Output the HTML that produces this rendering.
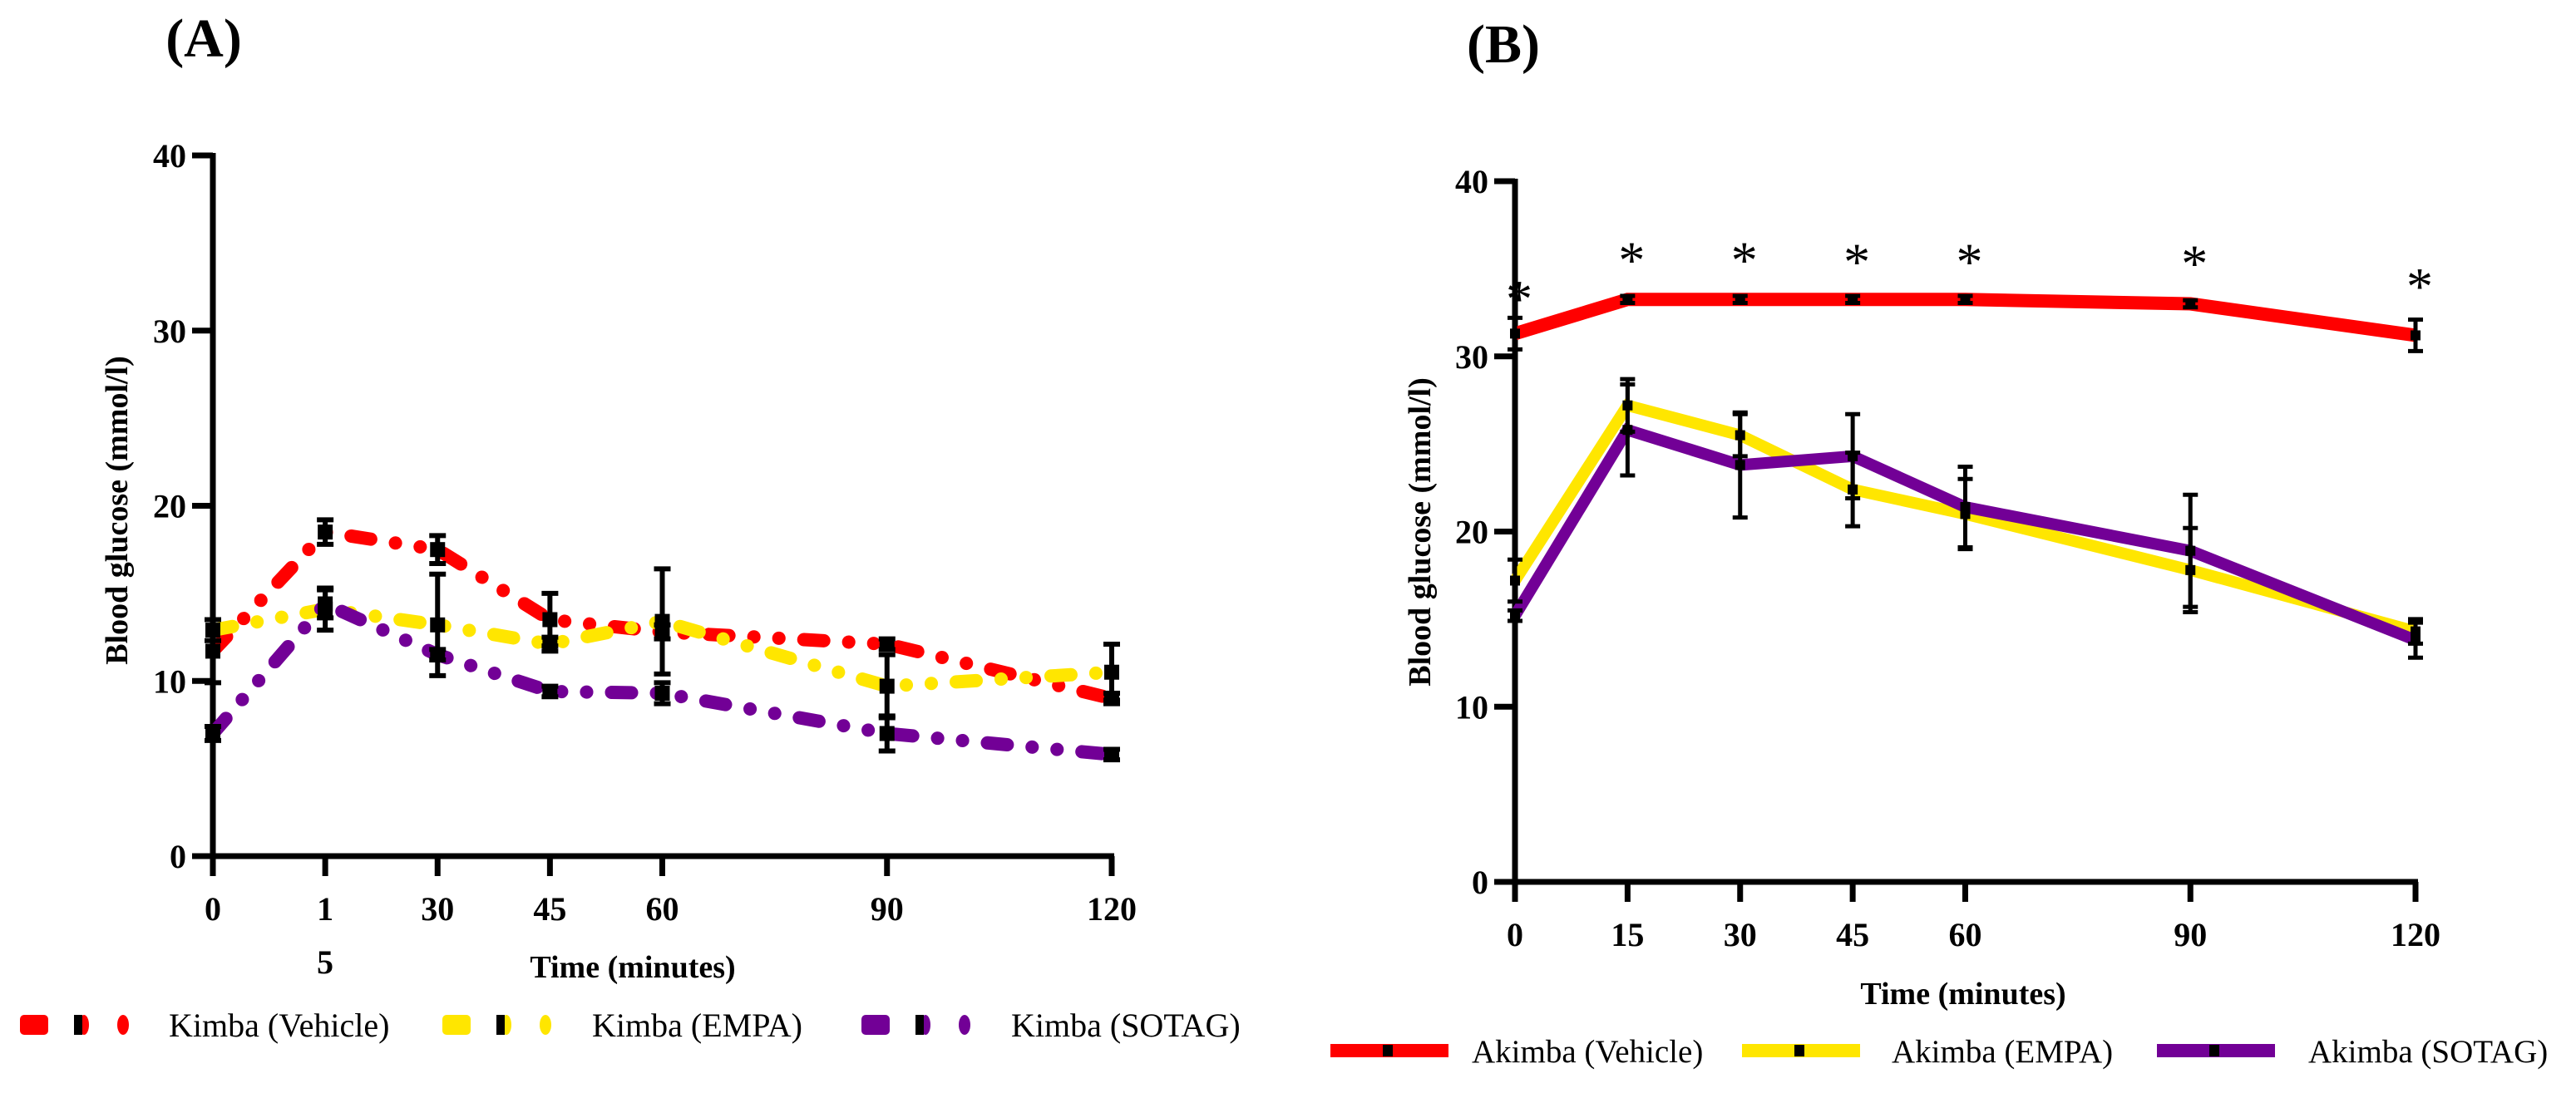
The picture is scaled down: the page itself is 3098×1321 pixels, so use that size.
<!DOCTYPE html>
<html><head><meta charset="utf-8"><style>
html,body{margin:0;padding:0;background:#fff}
svg{display:block}
text{font-family:"Liberation Serif",serif}
</style></head><body>
<svg id="c" width="3098" height="1321" viewBox="0 0 3098 1321" xmlns="http://www.w3.org/2000/svg">
<text x="245" y="68" font-size="66" font-weight="bold" text-anchor="middle">(A)</text>
<text x="1808" y="75" font-size="66" font-weight="bold" text-anchor="middle">(B)</text>
<g id="ga"></g>
<g id="gb"></g>
<g id="lg"></g>
</svg>
<script>
const times = [0, 15, 30, 45, 60, 90, 120];
const yTicks = [0, 10, 20, 30, 40];
const xTickLabelsA = ["0", "1", "30", "45", "60", "90", "120"];
const xTickLabelsB = ["0", "15", "30", "45", "60", "90", "120"];
const seriesNamesA = ["Kimba (Vehicle)", "Kimba (EMPA)", "Kimba (SOTAG)"];
const seriesNamesB = ["Akimba (Vehicle)", "Akimba (EMPA)", "Akimba (SOTAG)"];
const aVehicle = [11.7, 18.5, 17.5, 13.5, 12.8, 12.1, 9.0];
const aVehicleErr = [1.8, 0.7, 0.8, 1.5, 0.4, 0.3, 0.3];
const aEmpa = [12.9, 14.1, 13.2, 12.1, 13.4, 9.7, 10.5];
const aEmpaErr = [0.6, 1.2, 2.9, 0.4, 3.0, 1.8, 1.6];
const aSotag = [7.0, 14.4, 11.5, 9.4, 9.3, 7.0, 5.8];
const aSotagErr = [0.4, 0.8, 0.3, 0.3, 0.6, 1.0, 0.3];
const bVehicle = [31.3, 33.25, 33.25, 33.25, 33.25, 33.0, 31.2];
const bVehicleErr = [0.9, 0.2, 0.2, 0.2, 0.2, 0.2, 0.9];
const bEmpa = [17.2, 27.2, 25.5, 22.4, 21.0, 17.8, 14.3];
const bEmpaErr = [1.2, 1.5, 1.2, 2.1, 2.0, 2.4, 0.7];
const bSotag = [15.2, 25.8, 23.8, 24.3, 21.4, 18.9, 13.8];
const bSotagErr = [0.3, 2.6, 3.0, 2.4, 2.3, 3.2, 1.0];
const asterisks = [33.7, 35.9, 35.9, 35.8, 35.8, 35.7, 34.4];

const NS = "http://www.w3.org/2000/svg";
function mk(tag, attrs, parent, txt){const e=document.createElementNS(NS,tag);for(const k in attrs)e.setAttribute(k,attrs[k]);if(txt!==undefined)e.textContent=txt;parent.appendChild(e);return e;}
const colors = ["#ff0000", "#ffe600", "#720096"];

function panel(g, P, data, errs, labels, dashed){
  const X = t => P.x0 + t/120*(P.x1-P.x0);
  const Y = v => P.y0 - v/40*(P.y0-P.y40);
  let e = mk("line",{x1:P.x0,y1:P.y40-3,x2:P.x0,y2:P.y0+20,stroke:"#000","stroke-width":7},g);
  
  
  e = mk("line",{x1:P.x0-25,y1:P.y0,x2:P.x1+3,y2:P.y0,stroke:"#000","stroke-width":7},g);
  
  
  yTicks.forEach(v=>{
    const t = mk("line",{x1:P.x0-25,y1:Y(v),x2:P.x0,y2:Y(v),stroke:"#000","stroke-width":7},g);
    
    
    const l = mk("text",{x:P.x0-32,y:Y(v)+14,"font-size":40,"font-weight":"bold","text-anchor":"end"},g,String(v));
    
    
  });
  times.forEach((tm,i)=>{
    const t = mk("line",{x1:X(tm),y1:P.y0,x2:X(tm),y2:P.y0+24,stroke:"#000","stroke-width":7},g);
    
    
    const l = mk("text",{x:X(tm),y:P.y0+77,"font-size":40,"font-weight":"bold","text-anchor":"middle"},g,labels[i]);
    
    
  });
  data.forEach((s,si)=>{
    const pts = s.map((v,i)=>X(times[i])+","+Y(v)).join(" ");
    const attrs = {points:pts,fill:"none",stroke:colors[si],"stroke-width":dashed?16:(si==0?16:14),"stroke-linejoin":"miter"};
    if(dashed){attrs["stroke-dasharray"]="24 30 0.1 30 0.1 30";attrs["stroke-linecap"]="round";}
    const pl = mk("polyline",attrs,g);
    
    
  });
  const cap = dashed?10:9, sq = dashed?9:6, ew = dashed?6:5;
  data.forEach((s,si)=>{
    s.forEach((v,i)=>{
      const x=X(times[i]), er=errs[si][i];
      const eg = mk("g",{},g);
      
      
      mk("line",{x1:x,y1:Y(v+er),x2:x,y2:Y(v-er),stroke:"#000","stroke-width":ew},eg);
      mk("line",{x1:x-cap,y1:Y(v+er),x2:x+cap,y2:Y(v+er),stroke:"#000","stroke-width":ew},eg);
      mk("line",{x1:x-cap,y1:Y(v-er),x2:x+cap,y2:Y(v-er),stroke:"#000","stroke-width":ew},eg);
      const m = mk("rect",{x:x-sq,y:Y(v)-sq,width:2*sq,height:2*sq,fill:"#000"},g);
      
      
    });
  });
  return {X,Y};
}

const ga=document.getElementById("ga"), gb=document.getElementById("gb"), lg=document.getElementById("lg");
const PA={x0:256,x1:1337,y0:1030,y40:187};
const PB={x0:1822,x1:2905,y0:1061,y40:218};
panel(ga,PA,[aVehicle,aEmpa,aSotag],[aVehicleErr,aEmpaErr,aSotagErr],xTickLabelsA,true);
mk("text",{x:391,y:1171,"font-size":40,"font-weight":"bold","text-anchor":"middle"},ga,"5");
const sb = panel(gb,PB,[bVehicle,bEmpa,bSotag],[bVehicleErr,bEmpaErr,bSotagErr],xTickLabelsB,false);
asterisks.forEach((v,i)=>{
  const a = mk("text",{x:sb.X(times[i])+5,y:sb.Y(v)+30,"font-size":64,"text-anchor":"middle"},gb,"*");
  
  
});
let t;
t=mk("text",{x:0,y:0,"font-size":38,"font-weight":"bold","text-anchor":"middle",transform:"translate(153,614) rotate(-90)"},ga,"Blood glucose (mmol/l)");


t=mk("text",{x:0,y:0,"font-size":38,"font-weight":"bold","text-anchor":"middle",transform:"translate(1720,640) rotate(-90)"},gb,"Blood glucose (mmol/l)");


t=mk("text",{x:761,y:1176,"font-size":38,"font-weight":"bold","text-anchor":"middle"},ga,"Time (minutes)");


t=mk("text",{x:2361,y:1208,"font-size":38,"font-weight":"bold","text-anchor":"middle"},gb,"Time (minutes)");


const legAx=[24,532,1036], legAt=[203,712,1216];
seriesNamesA.forEach((n,i)=>{
  const y=1233, x=legAx[i];
  const eg=mk("g",{},lg);
  
  
  mk("rect",{x:x,y:y-12,width:34,height:24,rx:5,fill:colors[i]},eg);
  mk("ellipse",{cx:x+77,cy:y,rx:6,ry:12,fill:colors[i]},eg);
  mk("rect",{x:x+65,y:y-12,width:10,height:24,fill:"#000"},eg);
  mk("ellipse",{cx:x+124,cy:y,rx:7,ry:12,fill:colors[i]},eg);
  mk("text",{x:legAt[i],y:y+14,"font-size":40},eg,n);
});
const legBx=[1600,2095,2594], legBt=[1770,2275,2776];
seriesNamesB.forEach((n,i)=>{
  const y=1264, x=legBx[i];
  const eg=mk("g",{},lg);
  
  
  mk("rect",{x:x,y:y-8,width:142,height:16,fill:colors[i]},eg);
  mk("rect",{x:x+63,y:y-7,width:12,height:14,fill:"#000"},eg);
  mk("text",{x:legBt[i],y:y+14,"font-size":39},eg,n);
});
</script>
</body></html>
